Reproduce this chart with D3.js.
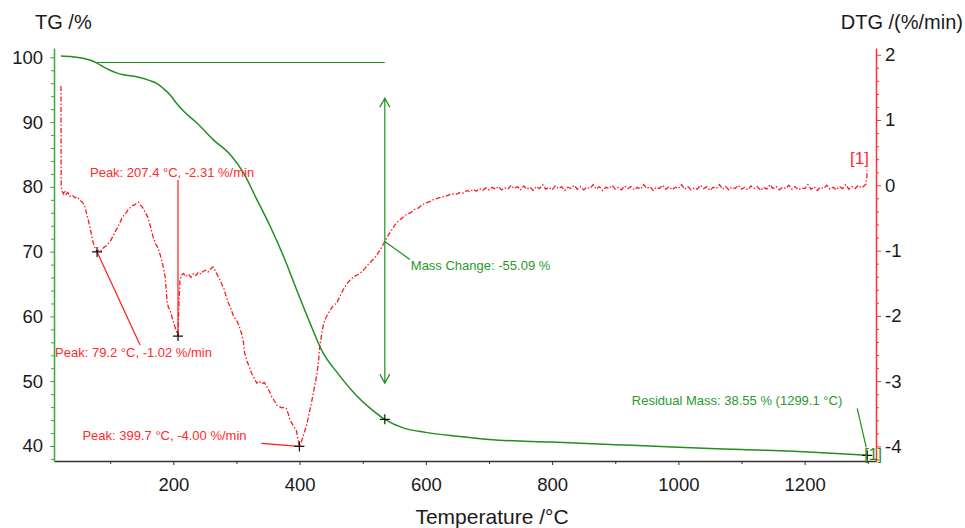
<!DOCTYPE html>
<meta charset="utf-8"/>
<title>TG / DTG</title>
<style>
    body { margin: 0; background: #fff; }
    text { font-family: "Liberation Sans", Arial, sans-serif; }
    .tick text { font-size: 18.5px; fill: #1a1a1a; }
    .ann { font-size: 13px; }
</style>
<script src="https://cdn.jsdelivr.net/npm/d3@7"></script>
<svg id="chart" width="965" height="528"></svg>
<script>
"use strict";

// ---- data ----
const xTicks = [200, 400, 600, 800, 1000, 1200];
const xMinorTicks = [100, 300, 500, 700, 900, 1100, 1300];
const tgTicks = [40, 50, 60, 70, 80, 90, 100];
const dtgTicks = [-4, -3, -2, -1, 0, 1, 2];

// TG curve, [°C, %]
const tgData = [
    [22, 100.2], [40, 100.1], [57, 99.85], [70, 99.5], [79, 99.1], [90, 98.5],
    [100, 98.0], [110, 97.6], [121, 97.3], [142, 97.0], [163, 96.4], [175, 95.9],
    [184, 95.2], [195, 94.2], [205, 92.9], [216, 91.7], [237, 89.9], [263, 87.3],
    [290, 85.0], [311, 82.2], [332, 78.1], [353, 74.0], [374, 69.4], [395, 64.2],
    [416, 59.1], [437, 54.4], [459, 51.4], [490, 47.8], [512, 45.8], [535, 44.11],
    [564, 42.8], [600, 42.1], [650, 41.5], [700, 41.0], [800, 40.6], [900, 40.2],
    [1000, 39.8], [1100, 39.45], [1213, 39.05], [1250, 38.85], [1299, 38.55]
];

// DTG curve, [°C, %/min]
const dtgData = [
    [22, 1.52], [22.4, -0.02], [24, -0.09], [26, -0.13], [28, -0.08], [30, -0.14], [33, -0.11],
    [36, -0.17], [40, -0.15], [44, -0.19], [48, -0.18], [52, -0.23], [56, -0.26], [60, -0.33],
    [63, -0.45], [66, -0.56], [70, -0.74], [73, -0.88], [76, -0.96], [79.2, -1.02], [83, -0.98],
    [86, -1.00], [89, -0.96], [93, -0.93], [97, -0.89], [101, -0.84], [104, -0.79], [108, -0.71],
    [112, -0.64], [116, -0.56], [120, -0.48], [124, -0.44], [128, -0.38], [131, -0.35], [135, -0.31],
    [139, -0.30], [142, -0.27], [145, -0.26], [148, -0.30], [152, -0.35], [156, -0.42], [160, -0.50],
    [164, -0.64], [168, -0.79], [172, -0.90], [176, -0.96], [179, -1.06], [183, -1.20], [187, -1.40],
    [189, -1.62], [190, -1.78], [192, -1.86], [195, -1.92], [199, -2.06], [203, -2.18], [207.4, -2.31],
    [209, -1.80], [210.5, -1.45], [213, -1.38], [216, -1.35], [220, -1.40], [224, -1.36], [228, -1.41],
    [232, -1.35], [236, -1.38], [240, -1.33], [244, -1.36], [247, -1.32], [251, -1.30], [255, -1.33],
    [259, -1.28], [263, -1.25], [266, -1.30], [270, -1.38], [274, -1.45], [277, -1.52], [280, -1.58],
    [284, -1.71], [287, -1.80], [290, -1.86], [293, -1.94], [296, -2.02], [300, -2.06], [304, -2.15],
    [308, -2.27], [311, -2.40], [313, -2.57], [317, -2.70], [321, -2.80], [324, -2.88], [328, -2.95],
    [332, -3.03], [336, -3.00], [340, -3.04], [344, -3.02], [348, -3.08], [352, -3.15], [356, -3.24],
    [360, -3.30], [364, -3.37], [368, -3.39], [372, -3.41], [376, -3.40], [379, -3.42], [382, -3.50],
    [385, -3.60], [390, -3.68], [395, -3.76], [399.7, -4.00], [403, -3.92], [407, -3.80], [411, -3.68],
    [415, -3.50], [419, -3.32], [423, -3.12], [427, -2.92], [430, -2.70], [432, -2.47], [435, -2.28],
    [438, -2.12], [442, -2.02], [448, -1.92], [453, -1.85], [459, -1.80], [464, -1.70], [469, -1.60],
    [474, -1.52], [480, -1.45], [486, -1.40], [492, -1.37], [498, -1.33], [503, -1.28], [508, -1.22],
    [513, -1.17], [518, -1.12], [522, -1.07], [527, -1.00], [531, -0.93], [535, -0.86], [540, -0.77],
    [545, -0.70], [550, -0.62], [555, -0.56], [560, -0.52], [565, -0.48], [570, -0.44], [576, -0.42],
    [582, -0.37], [588, -0.35], [594, -0.30], [600, -0.27], [606, -0.25], [612, -0.22], [618, -0.20],
    [624, -0.18], [630, -0.17], [636, -0.15], [642, -0.13], [648, -0.14], [654, -0.11],
    [660, -0.12], [665, -0.08], [670, -0.10], [675, -0.06], [680, -0.09], [685, -0.05], [690, -0.08],
    [695, -0.04], [700, -0.07], [705, -0.03], [710, -0.06], [715, -0.02], [720, -0.07], [725, -0.04],
    [730, -0.06], [735, 0.00], [740, -0.05], [745, -0.02], [750, -0.07], [755, -0.01], [760, -0.06],
    [765, -0.03], [770, -0.08], [775, -0.02], [780, -0.05], [785, 0.01], [790, -0.06], [795, -0.03],
    [800, -0.07], [805, -0.01], [810, -0.05], [815, -0.02], [820, -0.08], [825, -0.03], [830, -0.05],
    [835, 0.00], [840, -0.06], [845, -0.02], [850, -0.07], [855, -0.03], [860, -0.05], [865, 0.01],
    [870, -0.06], [875, -0.02], [880, -0.08], [885, -0.03], [890, -0.05], [895, 0.00], [900, -0.06],
    [905, -0.03], [910, -0.07], [915, -0.01], [920, -0.05], [925, -0.02], [930, -0.07], [935, -0.03],
    [940, -0.06], [945, 0.01], [950, -0.05], [955, -0.02], [960, -0.08], [965, -0.03], [970, -0.05],
    [975, 0.00], [980, -0.06], [985, -0.02], [990, -0.07], [995, -0.03], [1000, -0.05], [1005, 0.01],
    [1010, -0.06], [1015, -0.02], [1020, -0.07], [1025, -0.04], [1030, -0.06], [1035, 0.00], [1040, -0.05],
    [1045, -0.02], [1050, -0.08], [1055, -0.03], [1060, -0.05], [1065, 0.01], [1070, -0.06], [1075, -0.02],
    [1080, -0.07], [1085, -0.03], [1090, -0.05], [1095, 0.00], [1100, -0.06], [1105, -0.03], [1110, -0.07],
    [1115, -0.01], [1120, -0.05], [1125, -0.02], [1130, -0.08], [1135, -0.03], [1140, -0.06], [1145, 0.01],
    [1150, -0.05], [1155, -0.02], [1160, -0.07], [1165, -0.03], [1170, -0.05], [1175, 0.00], [1180, -0.06],
    [1185, -0.02], [1190, -0.07], [1195, -0.04], [1200, -0.05], [1205, 0.01], [1210, -0.06], [1215, -0.02],
    [1220, -0.08], [1225, -0.03], [1230, -0.05], [1235, 0.00], [1240, -0.06], [1245, -0.03], [1250, -0.07],
    [1255, -0.02], [1260, -0.05], [1265, 0.01], [1270, -0.06], [1275, -0.02], [1280, -0.05], [1285, 0.00],
    [1290, -0.04], [1294, -0.01], [1297, 0.02], [1298.5, 0.12], [1299.1, 0.23]
];

const peaks = [
    {t: 79.2, v: -1.02},
    {t: 207.4, v: -2.31},
    {t: 399.7, v: -4.00}
];
const massChange = {t: 535, from: 99.2, to: 44.11, value: -55.09, startT: 79, arrowTop: 93.7, arrowBottom: 49.7, dtgAt: -0.86};
const residual = {t: 1299.1, v: 38.55};

// ---- drawing ----
const green = "#1f8f1f";
const greenText = "#2a9a2a";
const red = "#ff1a1a";

const svg = d3.select("#chart");

const x = d3.scaleLinear().domain([11, 1313]).range([54, 876]);
const yTG = d3.scaleLinear().domain([37.68, 101.44]).range([461, 48]);
const yDTG = d3.scaleLinear().domain([-4.223, 2.103]).range([461, 48]);

const fmt = d => d3.format("d")(d).replace("−", "-");

// axes: a labelled major axis plus an unlabelled minor one
function axisPair(g, major, minor, color, width)
{
    const gMajor = g.append("g").call(major);
    const gMinor = g.append("g").call(minor);
    gMinor.select("path.domain").remove();
    gMinor.selectAll("text").remove();
    gMajor.select("path.domain").attr("stroke", color).attr("stroke-width", width);
    g.selectAll(".tick line").attr("stroke", color);
}

axisPair(svg.append("g").attr("transform", "translate(0,461)"),
    d3.axisBottom(x).tickValues(xTicks).tickSize(4).tickPadding(13).tickSizeOuter(0).tickFormat(fmt),
    d3.axisBottom(x).tickValues(xMinorTicks).tickSize(3).tickSizeOuter(0),
    "#333", 1.3);

axisPair(svg.append("g").attr("transform", "translate(54,0)"),
    d3.axisLeft(yTG).tickValues(tgTicks).tickSize(4).tickPadding(7).tickSizeOuter(0).tickFormat(fmt),
    d3.axisLeft(yTG).tickValues(d3.range(38, 101, 2).filter(v => v % 10 !== 0)).tickSize(3).tickSizeOuter(0),
    "#3aa83a", 1.5);

axisPair(svg.append("g").attr("transform", "translate(876,0)"),
    d3.axisRight(yDTG).tickValues(dtgTicks).tickSize(5).tickPadding(4).tickSizeOuter(0).tickFormat(fmt),
    d3.axisRight(yDTG).tickValues(d3.range(-42, 21, 2).filter(v => v % 10 !== 0).map(v => v / 10)).tickSize(3).tickSizeOuter(0),
    "#ff3030", 1.5);

// axis titles
svg.append("text").attr("x", 35).attr("y", 29).attr("font-size", 20).attr("fill", "#1a1a1a").text("TG /%");
svg.append("text").attr("x", 963).attr("y", 29).attr("font-size", 20).attr("text-anchor", "end").attr("fill", "#1a1a1a").text("DTG /(%/min)");
svg.append("text").attr("x", 492).attr("y", 524).attr("font-size", 21).attr("text-anchor", "middle").attr("fill", "#1a1a1a").text("Temperature /°C");

// TG curve
svg.append("path")
    .datum(tgData)
    .attr("fill", "none")
    .attr("stroke", green)
    .attr("stroke-width", 1.5)
    .attr("d", d3.line().x(d => x(d[0])).y(d => yTG(d[1])).curve(d3.curveMonotoneX));

// DTG curve
svg.append("path")
    .datum(dtgData)
    .attr("fill", "none")
    .attr("stroke", red)
    .attr("stroke-width", 1.3)
    .attr("stroke-dasharray", "5,2,1.5,2")
    .attr("d", d3.line().x(d => x(d[0])).y(d => yDTG(d[1])));

// cross marker
function cross(cx, cy)
{
    svg.append("path")
        .attr("d", "M" + (cx - 5) + "," + cy + "H" + (cx + 5) + "M" + cx + "," + (cy - 5) + "V" + (cy + 5))
        .attr("stroke", "#111")
        .attr("stroke-width", 1.2);
}

// peak annotations: leader end and label start, relative to the marker
const peakLayout = [
    {lx: 43, ly: 93, tx: -42, ty: 105},
    {lx: 0, ly: -156, tx: -88, ty: -159},
    {lx: -38, ly: -3, tx: -217, ty: -6}
];
peaks.forEach(function (p, i)
{
    const px = x(p.t), py = yDTG(p.v), l = peakLayout[i];
    svg.append("line")
        .attr("x1", px).attr("y1", py).attr("x2", px + l.lx).attr("y2", py + l.ly)
        .attr("stroke", red).attr("stroke-width", 1.2);
    svg.append("text").attr("class", "ann")
        .attr("x", px + l.tx).attr("y", py + l.ty)
        .attr("fill", "#ff2a2a")
        .text("Peak: " + p.t.toFixed(1) + " °C, " + p.v.toFixed(2) + " %/min");
    cross(px, py);
});

// mass change
const mx = x(massChange.t);
svg.append("line")
    .attr("x1", x(massChange.startT)).attr("x2", mx)
    .attr("y1", yTG(massChange.from)).attr("y2", yTG(massChange.from))
    .attr("stroke", green).attr("stroke-width", 1.2);
const at = yTG(massChange.arrowTop), ab = yTG(massChange.arrowBottom);
svg.append("path")
    .attr("d", "M" + mx + "," + at + "V" + ab
        + "M" + (mx - 5) + "," + (at + 9) + "L" + mx + "," + at + "L" + (mx + 5) + "," + (at + 9)
        + "M" + (mx - 5) + "," + (ab - 9) + "L" + mx + "," + ab + "L" + (mx + 5) + "," + (ab - 9))
    .attr("fill", "none").attr("stroke", green).attr("stroke-width", 1.2);
const my = yDTG(massChange.dtgAt);
svg.append("line")
    .attr("x1", mx).attr("y1", my).attr("x2", mx + 25).attr("y2", my + 18)
    .attr("stroke", green).attr("stroke-width", 1.2);
svg.append("text").attr("class", "ann")
    .attr("x", mx + 26).attr("y", my + 29)
    .attr("fill", greenText)
    .text("Mass Change: " + massChange.value.toFixed(2) + " %");
cross(mx, yTG(massChange.to));

// residual mass
const rx = x(residual.t), ry = yTG(residual.v);
svg.append("line")
    .attr("x1", rx - 10).attr("y1", ry - 47).attr("x2", rx - 1).attr("y2", ry - 8)
    .attr("stroke", green).attr("stroke-width", 1.2);
svg.append("text").attr("class", "ann")
    .attr("x", rx - 25).attr("y", ry - 50)
    .attr("text-anchor", "end")
    .attr("fill", greenText)
    .text("Residual Mass: " + residual.v.toFixed(2) + " % (" + residual.t.toFixed(1) + " °C)");
cross(rx, ry);
svg.append("text")
    .attr("x", rx - 3).attr("y", ry + 5)
    .attr("font-size", 16)
    .attr("fill", green)
    .text("[1]");

// curve label
svg.append("text")
    .attr("x", 869).attr("y", 164)
    .attr("font-size", 17)
    .attr("text-anchor", "end")
    .attr("fill", "#ff2a2a")
    .text("[1]");
</script>
